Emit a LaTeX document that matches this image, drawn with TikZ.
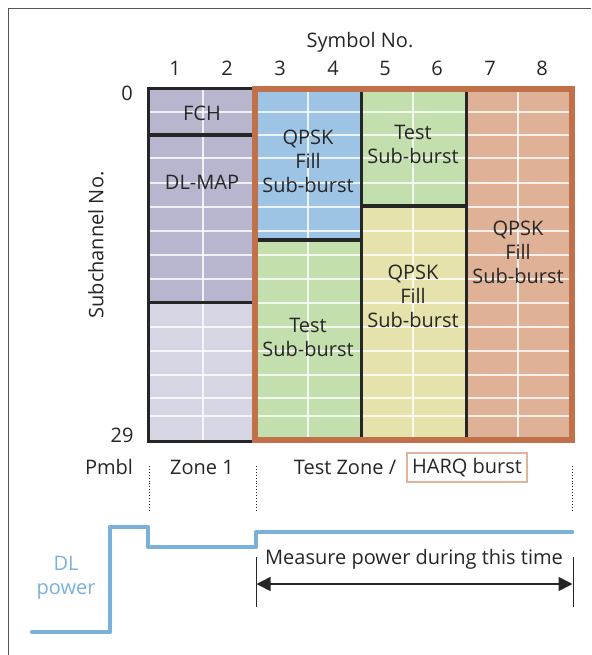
\documentclass[tikz,border=0pt]{standalone}
\usepackage{fontspec}
\setmainfont{Open Sans}
\usetikzlibrary{arrows.meta}
\definecolor{ink}{HTML}{262626}
\definecolor{fchpurple}{HTML}{B8B5CF}
\definecolor{lavender}{HTML}{D5D5E3}
\definecolor{qblue}{HTML}{9EC4E5}
\definecolor{tgreen}{HTML}{C4DFAE}
\definecolor{fyellow}{HTML}{E5E3AB}
\definecolor{salmon}{HTML}{DFB297}
\definecolor{burnt}{HTML}{C0714A}
\definecolor{harq}{HTML}{E2B497}
\definecolor{powerblue}{HTML}{7AB1DB}
\definecolor{framegray}{HTML}{555555}
\begin{document}
\begin{tikzpicture}[x=1pt,y=-1pt,
  lbl/.style={font=\fontsize{20}{24}\selectfont, text=ink, inner sep=0pt, align=center},
  gridline/.style={white, opacity=0.8, line width=2.2pt},
  divider/.style={ink, line width=3.5pt},
  zoneline/.style={ink, line width=0.9pt, dotted},
  powerline/.style={powerblue, line width=4.5pt, line cap=round, line join=round},
  spanarrow/.style={ink, line width=1.6pt, {Triangle[length=14pt,width=14pt]}-{Triangle[length=14pt,width=14pt]}},
  tick/.style={ink, line width=0.9pt}]
\useasboundingbox (0,0) rectangle (591,655);

% outer frame (top and left edges)
\draw[framegray, line width=1pt] (591,8.5) -- (8.5,8.5) -- (8.5,655);

% region fills
\fill[fchpurple] (148.5,88.5) rectangle (255,302.5);
\fill[lavender]  (148.5,302.5) rectangle (255,441.5);
\fill[qblue]     (255,89) rectangle (361.5,240);
\fill[tgreen]    (255,240) rectangle (361.5,440);
\fill[tgreen]    (361.5,89) rectangle (466.5,206);
\fill[fyellow]   (361.5,206) rectangle (466.5,440);
\fill[salmon]    (466.5,89) rectangle (572,440);

% subchannel / symbol grid
\foreach \yy in {112,135,158,183,207,231,255,279,303,327,351,375,398,416}
  \draw[gridline] (148.5,\yy) -- (572,\yy);
\foreach \xx in {203,308,413,518}
  \draw[gridline] (\xx,88.5) -- (\xx,441.5);

% burst boundaries
\draw[divider] (255,88.5) -- (148.5,88.5) -- (148.5,441.5) -- (255,441.5);
\draw[divider] (148.5,135) -- (255,135);
\draw[divider] (148.5,302.5) -- (255,302.5);
\draw[divider] (255,240) -- (361.5,240);
\draw[divider] (361.5,206) -- (466.5,206);
\draw[divider] (361.5,89) -- (361.5,440);
\draw[divider] (466.5,89) -- (466.5,440);

% test zone outline
\draw[burnt, line width=6pt] (255,89) rectangle (572,440);

% axis labels
\node[lbl] (symtitle) at (360,42) {Symbol No.};
\foreach \i/\xx in {1/175,2/227,3/280,4/333,5/385,6/437,7/490,8/542}
  \node[lbl] (sym\i) at (\xx,68) {\i};
\node[lbl] (sub0) at (127,93) {0};
\node[lbl] (sub29) at (122,435) {29};
\node[lbl, rotate=90] (subtitle) at (96,245) {Subchannel No.};

% burst labels
\node[lbl] (fch) at (202,113) {FCH};
\node[lbl] (dlmap) at (202,182) {DL-MAP};
\node[lbl] (qpskA) at (308,161) {QPSK\\Fill\\Sub-burst};
\node[lbl] (testA) at (413,144) {Test\\Sub-burst};
\node[lbl] (qpskC) at (518,252) {QPSK\\Fill\\Sub-burst};
\node[lbl] (qpskB) at (413,296) {QPSK\\Fill\\Sub-burst};
\node[lbl] (testB) at (308,337) {Test\\Sub-burst};

% zone labels
\node[lbl] (pmbl) at (109,467) {Pmbl};
\node[lbl] (zone1) at (202,467) {Zone 1};
\node[lbl] (testzone) at (345,467) {Test Zone /};
\node[lbl, draw=harq, line width=2.2pt, inner xsep=5pt, inner ysep=5pt] (harqbox) at (467,467.5) {HARQ burst};

% zone separators
\foreach \xx/\nm in {149/a,256/b,572/c} {
  \coordinate (zt\nm) at (\xx,466);
  \coordinate (zb\nm) at (\xx,510);
  \draw[zoneline] (zt\nm) -- (zb\nm);
}

% downlink power profile
\draw[powerline] (32,632) -- (110,632) -- (110,527) -- (148,527) -- (148,547)
  -- (256,547) -- (256,532) -- (572,532);
\node[lbl, text=powerblue] (dlpower) at (66,578) {DL\\power};

% measurement interval
\coordinate (mt1) at (256,557);
\coordinate (mb1) at (256,607);
\coordinate (mt2) at (573,557);
\coordinate (mb2) at (573,607);
\draw[tick] (mt1) -- (mb1);
\draw[tick] (mt2) -- (mb2);
\coordinate (ms) at (256.5,584);
\coordinate (me) at (572.5,584);
\draw[spanarrow] (ms) -- (me);
\node[lbl] (measure) at (414,559) {Measure power during this time};
\end{tikzpicture}
\end{document}
